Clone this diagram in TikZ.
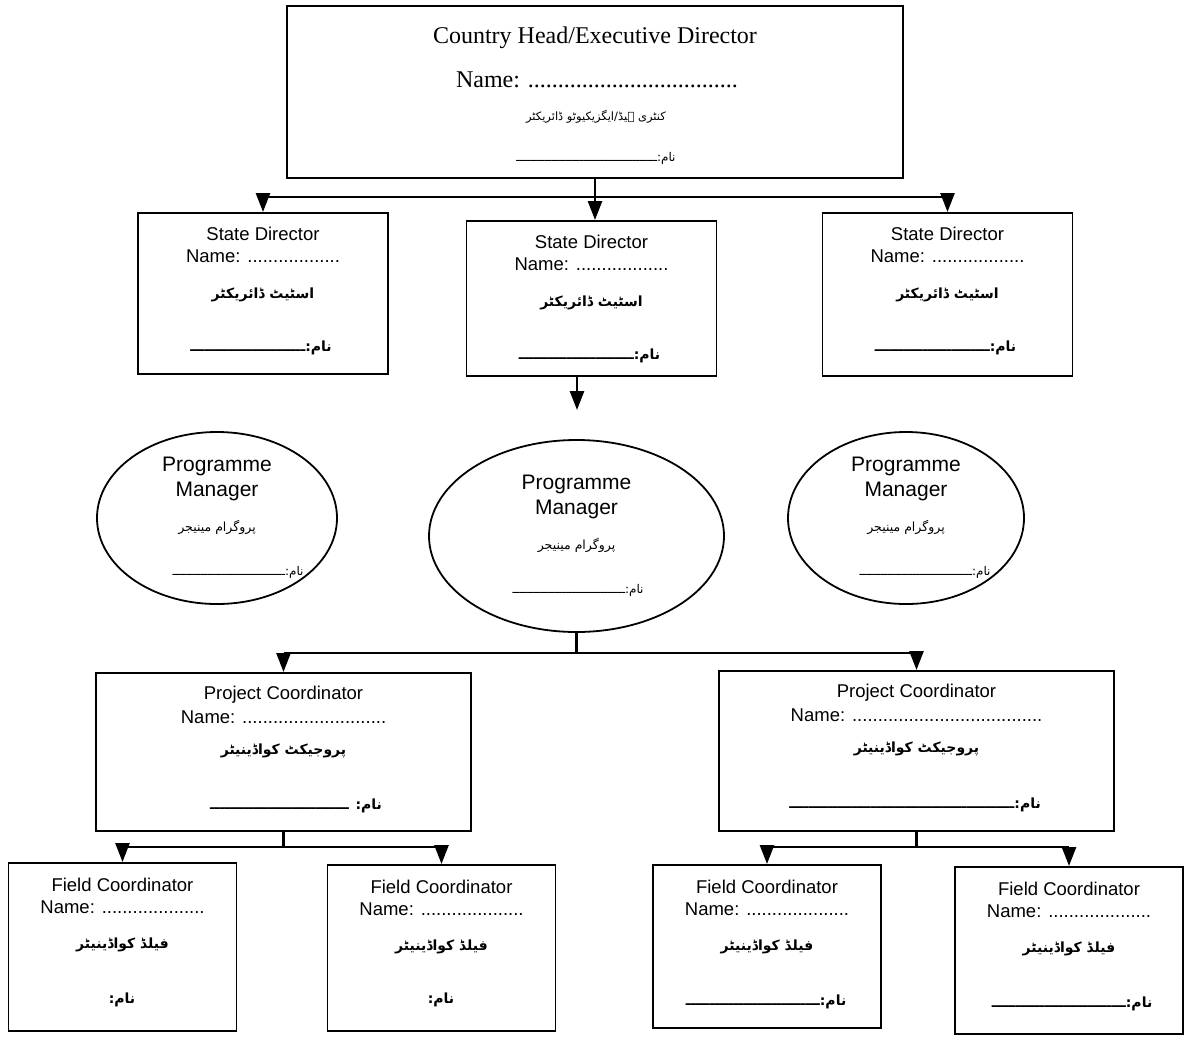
\documentclass[tikz,border=0pt]{standalone}
\usepackage{fontspec}
\setmainfont{Liberation Serif}
\setsansfont{Liberation Sans}
\newfontfamily\urdufont[Script=Arabic]{DejaVu Sans}
\TeXXeTstate=1
\usetikzlibrary{arrows.meta,shapes.geometric}

\newcommand{\ur}[1]{{\urdufont\beginR #1\endR}}

\tikzset{
  box/.style={draw,line width=1.8pt,inner sep=0pt},
  oval/.style={draw,ellipse,line width=1.8pt,inner sep=0pt},
  eng/.style={font=\sffamily\fontsize{18.5}{20}\selectfont,inner sep=0pt},
  big/.style={font=\sffamily\fontsize{21}{24}\selectfont,inner sep=0pt},
  urd/.style={font=\bfseries\fontsize{14}{17}\selectfont,inner sep=0pt},
  link/.style={line width=2.6pt},
}

\begin{document}
\begin{tikzpicture}[x=1pt,y=-1pt,>={Triangle[width=14pt,length=19pt]}]
\useasboundingbox (0,0) rectangle (1189,1037);

% country head
\node[box,anchor=north,minimum width=616pt,minimum height=172pt] (ch) at (595,5) {};
\node[font=\fontsize{24}{28}\selectfont,inner sep=0pt] (ch-t) at (595,38) {Country Head/Executive Director};
\node[font=\fontsize{24}{28}\selectfont,inner sep=0pt] (ch-n) at (597,80) {Name: ...................................};
\node[urd,font=\fontsize{11.5}{15}\selectfont] (ch-u) at (596,117) {\ur{کنٹری ہیڈ/ایگزیکیوٹو ڈائریکٹر}};
\node[urd,font=\fontsize{12}{15}\selectfont] (ch-f) at (596,158) {\ur{نام:ــــــــــــــــــــــــــــــــــــــــ}};

% state directors
\foreach \n/\x/\t/\h in {sd1/263/212/161,sd2/591.5/220/155,sd3/947.5/212/163} {
  \node[box,anchor=north,minimum width=250pt,minimum height=\h pt] (\n) at (\x,\t) {};
  \node[eng] (\n-t) at (\x,\t+22) {State Director};
  \node[eng] (\n-n) at (\x,\t+44) {Name: ..................};
  \node[urd] (\n-u) at (\x,\t+83) {\ur{اسٹیٹ ڈائریکٹر}};
  \node[urd] (\n-f) at (\x-2,\t+136) {\ur{نام:ــــــــــــــــــــــــ}};
}

% programme managers
\foreach \n/\x/\y/\w/\h/\f in {pm1/217/518/240/172/238,pm2/576.5/536/295/192/578,pm3/906/518/236/172/925} {
  \node[oval,minimum width=\w pt,minimum height=\h pt] (\n) at (\x,\y) {};
  \node[big] (\n-t) at (\x,\y-52) {Programme};
  \node[big] (\n-m) at (\x,\y-27) {Manager};
  \node[urd,font=\fontsize{12.5}{15}\selectfont] (\n-u) at (\x,\y+9) {\ur{پروگرام مینیجر}};
  \node[urd,font=\fontsize{12}{14}\selectfont] (\n-f) at (\f,\y+54) {\ur{نام:ــــــــــــــــــــــــــــــــ}};
}

% project coordinators
\node[box,anchor=north,minimum width=375pt,minimum height=158pt] (pc1) at (283.5,672) {};
\node[box,anchor=north,minimum width=395pt,minimum height=160pt] (pc2) at (916.5,670) {};
\node[eng] (pc1-t) at (283.5,695) {Project Coordinator};
\node[eng] (pc1-n) at (283.5,717) {Name: ............................};
\node[urd] (pc1-u) at (283.5,751) {\ur{پروجیکٹ کواڈینیٹر}};
\node[urd] (pc1-f) at (296,806) {\ur{نام: ـــــــــــــــــــــــــــــ}};
\node[eng] (pc2-t) at (916.5,693) {Project Coordinator};
\node[eng] (pc2-n) at (916.5,715) {Name: .....................................};
\node[urd] (pc2-u) at (916.5,749) {\ur{پروجیکٹ کواڈینیٹر}};
\node[urd] (pc2-f) at (915,805) {\ur{نام:ـــــــــــــــــــــــــــــــــــــــــــــــ}};

% field coordinators
\foreach \n/\x/\t/\h in {fc1/122.5/862/168,fc2/441.5/864/166,fc3/767/864/163,fc4/1069/866/167} {
  \node[box,anchor=north,minimum width=228pt,minimum height=\h pt] (\n) at (\x,\t) {};
  \node[eng] (\n-t) at (\x,\t+23) {Field Coordinator};
  \node[eng] (\n-n) at (\x,\t+45) {Name: ....................};
  \node[urd] (\n-u) at (\x,\t+83) {\ur{فیلڈ کواڈینیٹر}};
}
\node[urd] (fc1-f) at (122,1000) {\ur{نام:}};
\node[urd] (fc2-f) at (441,1000) {\ur{نام:}};
\node[urd] (fc3-f) at (766,1002) {\ur{نام:ــــــــــــــــــــــــــــ}};
\node[urd] (fc4-f) at (1072,1004) {\ur{نام:ــــــــــــــــــــــــــــ}};

% connectors
\draw[link] (ch.south) -- ++(0,18) coordinate (bus1);
\draw[link] (bus1 -| sd1.north) -- (bus1 -| sd3.north);
\foreach \n in {sd1,sd3} \draw[link,->] (bus1 -| \n.north) -- (\n.north);
\draw[link,->] (bus1) -- (bus1 |- sd2.north);

\coordinate (pmtip) at (577,410);
\draw[link,->] (sd2.south -| pmtip) -- (pmtip);

\draw[link] (pm2.south) -- ++(0,20) coordinate (bus2);
\draw[link] (bus2 -| pc1.north) -- (bus2 -| pc2.north);
\foreach \n in {pc1,pc2} \draw[link,->] (bus2 -| \n.north) -- (\n.north);

\draw[link] (pc1.south) -- ++(0,15) coordinate (bus3);
\draw[link] (bus3 -| fc1.north) -- (bus3 -| fc2.north);
\foreach \n in {fc1,fc2} \draw[link,->] (bus3 -| \n.north) -- (\n.north);

\draw[link] (pc2.south) -- ++(0,15) coordinate (bus4);
\draw[link] (bus4 -| fc3.north) -- (bus4 -| fc4.north);
\foreach \n in {fc3,fc4} \draw[link,->] (bus4 -| \n.north) -- (\n.north);
\end{tikzpicture}
\end{document}
